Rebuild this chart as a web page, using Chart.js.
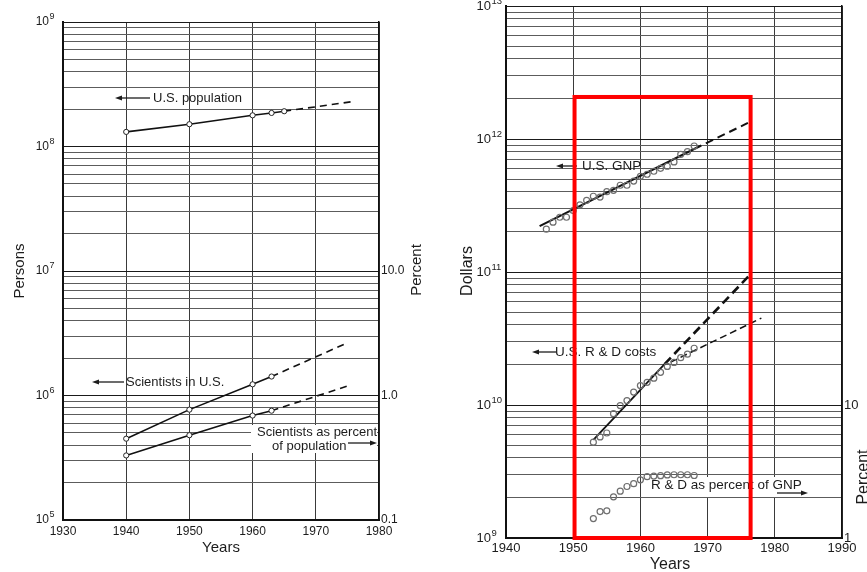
<!DOCTYPE html>
<html>
<head>
<meta charset="utf-8">
<script src="https://cdn.jsdelivr.net/npm/chart.js@4.4.0/dist/chart.umd.min.js"></script>
<style>
  html, body { margin: 0; padding: 0; background: #fff; }
  body { width: 867px; height: 572px; position: relative; overflow: hidden; }
  canvas { position: absolute; top: 0; }
  #esquerda { left: 0; }
  #direita { left: 435px; }
</style>
</head>
<body>
<canvas id="esquerda" width="435" height="572"></canvas>
<canvas id="direita" width="432" height="572"></canvas>
<script>
// ---- painel esquerdo: pessoas ----
const anosPop        = [1940, 1950, 1960, 1963, 1965];
const populacao      = [1.31e8, 1.51e8, 1.78e8, 1.86e8, 1.92e8];
const anosPopProj    = [1965, 1976];
const populacaoProj  = [1.92e8, 2.3e8];

const anosCient      = [1940, 1950, 1960, 1963];
const cientistas     = [4.5e5, 7.7e5, 1.23e6, 1.42e6];
const anosCientProj  = [1963, 1975];
const cientistasProj = [1.42e6, 2.65e6];

const cientistasPct     = [0.33, 0.48, 0.69, 0.755];
const cientistasPctProj = [0.755, 1.19];

// ---- painel direito: dólares ----
const anosPnb = [1946, 1947, 1948, 1949, 1950, 1951, 1952, 1953, 1954, 1955, 1956, 1957,
                 1958, 1959, 1960, 1961, 1962, 1963, 1964, 1965, 1966, 1967, 1968];
const pnb     = [2.10e11, 2.37e11, 2.58e11, 2.58e11, 2.90e11, 3.20e11, 3.46e11, 3.71e11,
                 3.66e11, 4.02e11, 4.11e11, 4.49e11, 4.49e11, 4.83e11, 5.24e11, 5.43e11,
                 5.72e11, 6.02e11, 6.24e11, 6.72e11, 7.67e11, 8.03e11, 8.86e11];
const anosPnbAjuste = [1945, 1968];
const pnbAjuste     = [2.21e11, 8.41e11];
const anosPnbProj   = [1968, 1976];
const pnbProj       = [8.41e11, 1.32e12];

const anosPD  = [1953, 1954, 1955, 1956, 1957, 1958, 1959, 1960,
                 1961, 1962, 1963, 1964, 1965, 1966, 1967, 1968];
const custoPD = [5.25e9, 5.75e9, 6.16e9, 8.6e9, 9.9e9, 1.08e10, 1.25e10, 1.40e10,
                 1.48e10, 1.59e10, 1.76e10, 1.95e10, 2.09e10, 2.27e10, 2.41e10, 2.67e10];
const pdPctPnb = [1.40, 1.58, 1.60, 2.04, 2.25, 2.44, 2.56, 2.74,
                  2.89, 2.92, 2.94, 2.98, 2.99, 2.99, 2.99, 2.95];
const anosPDAjuste   = [1953, 1963.6];
const pdAjuste       = [5.46e9, 2.03e10];
const anosPDProjAlta = [1963.6, 1976.1];
const pdProjAlta     = [2.03e10, 9.3e10];
const anosPDProjBaixa = [1964.5, 1978];
const pdProjBaixa     = [2.1e10, 4.5e10];

// ---- eixos ----
const anosEsq       = [1930, 1940, 1950, 1960, 1970, 1980];
const decadasEsq    = [1e5, 1e6, 1e7, 1e8, 1e9];
const expoentesEsq  = ['5', '6', '7', '8', '9'];
const pctEsq        = [0.1, 1, 10];
const rotulosPctEsq = ['0.1', '1.0', '10.0'];

const anosDir       = [1940, 1950, 1960, 1970, 1980, 1990];
const decadasDir    = [1e9, 1e10, 1e11, 1e12, 1e13];
const expoentesDir  = ['9', '10', '11', '12', '13'];
const pctDir        = [1, 10];
const rotulosPctDir = ['1', '10'];

// região destacada (retângulo vermelho)
const destaqueAnos  = [1950.2, 1976.4];
const destaqueValor = [2.07e12, 1e9];

const fonte = "'Liberation Sans', Arial, Helvetica, sans-serif";
const tinta = '#1c1c1c';
Chart.defaults.font.family = fonte;
Chart.defaults.color = tinta;
Chart.defaults.animation = false;

const pontos = (xs, ys) => xs.map((x, i) => ({ x, y: ys[i] }));

function gradeLog(decadas) {
  const v = [];
  decadas.forEach((d, i) => {
    v.push(d);
    if (i < decadas.length - 1) for (let k = 2; k <= 9; k++) v.push(d * k);
  });
  return v;
}

function eixoX(anos, altura, tamanho, pad) {
  return {
    type: 'linear', position: 'bottom',
    min: anos[0], max: anos[anos.length - 1],
    afterBuildTicks: s => { s.ticks = anos.map(v => ({ value: v })); },
    afterFit: s => { s.height = altura; s.paddingLeft = 0; s.paddingRight = 0; },
    ticks: { autoSkip: false, maxRotation: 0, padding: pad, font: { size: tamanho }, color: tinta,
             callback: v => String(v) },
    grid: { drawTicks: false, color: '#3a3a3a', lineWidth: 1 },
    border: { color: '#111', width: 2 },
  };
}

// rótulo "10" na escala; o expoente é desenhado pelo plugin
function eixoY(decadas, largura, tamanho, pad) {
  const grade = gradeLog(decadas);
  return {
    type: 'logarithmic', position: 'left',
    min: decadas[0], max: decadas[decadas.length - 1],
    afterBuildTicks: s => { s.ticks = grade.map(v => ({ value: v })); },
    afterFit: s => { s.width = largura; s.paddingTop = 0; s.paddingBottom = 0; },
    ticks: { autoSkip: false, padding: pad, font: { size: tamanho }, color: tinta,
             callback: v => decadas.includes(v) ? '10' : '' },
    grid: { drawTicks: false, lineWidth: 1,
            color: c => decadas.includes(c.tick && c.tick.value) ? '#1a1a1a' : '#5c5c5c' },
    border: { color: '#111', width: 2 },
  };
}

function eixoPct(valores, rotulos, min, max, largura, tamanho) {
  return {
    type: 'logarithmic', position: 'right', min, max,
    afterBuildTicks: s => { s.ticks = valores.map(v => ({ value: v })); },
    afterFit: s => { s.width = largura; s.paddingTop = 0; s.paddingBottom = 0; },
    ticks: { autoSkip: false, padding: 2, font: { size: tamanho }, color: tinta,
             callback: v => rotulos[valores.indexOf(v)] },
    grid: { display: false, drawTicks: false },
    border: { display: true, color: '#111', width: 1.5 },
  };
}

// ---- desenho de anotações ----
function seta(ctx, x1, x2, y) {
  const dir = Math.sign(x2 - x1);
  ctx.beginPath();
  ctx.moveTo(x1, y); ctx.lineTo(x2 - dir * 4, y);
  ctx.lineWidth = 1.3; ctx.strokeStyle = tinta; ctx.stroke();
  ctx.beginPath();
  ctx.moveTo(x2, y); ctx.lineTo(x2 - dir * 7, y - 2.6); ctx.lineTo(x2 - dir * 7, y + 2.6);
  ctx.closePath(); ctx.fillStyle = tinta; ctx.fill();
}

function texto(ctx, s, x, y, tam, alinh, rot) {
  ctx.save();
  ctx.font = `${tam}px ${fonte}`;
  ctx.fillStyle = tinta;
  ctx.textAlign = alinh || 'left';
  ctx.textBaseline = 'middle';
  ctx.translate(x, y);
  if (rot) ctx.rotate(rot);
  ctx.fillText(s, 0, 0);
  ctx.restore();
}

function caixaBranca(ctx, x, y, w, h) {
  ctx.fillStyle = '#fff';
  ctx.fillRect(x, y, w, h);
}

function expoentes(chart, decadas, exps, pad, tam) {
  const sy = chart.scales.y;
  const x = chart.chartArea.left - pad + 0.5;
  decadas.forEach((d, i) => texto(chart.ctx, exps[i], x, sy.getPixelForValue(d) - 5, tam));
}

const anotEsq = {
  id: 'anotEsq',
  beforeDatasetsDraw(chart) {
    caixaBranca(chart.ctx, 251, 425, 126, 28);
  },
  afterDraw(chart) {
    const ctx = chart.ctx;
    expoentes(chart, decadasEsq, expoentesEsq, 14, 9);
    seta(ctx, 150, 115, 98);
    texto(ctx, 'U.S. population', 153, 98, 13);
    seta(ctx, 124, 92, 382);
    texto(ctx, 'Scientists in U.S.', 126, 382, 13);
    texto(ctx, 'Scientists as percent', 377, 432, 13, 'right');
    texto(ctx, 'of population', 272, 446, 13);
    seta(ctx, 348, 377, 443);
    texto(ctx, 'Persons', 20, 271, 15, 'center', -Math.PI / 2);
    texto(ctx, 'Percent', 417, 270, 15, 'center', -Math.PI / 2);
    texto(ctx, 'Years', 221, 548, 15, 'center');
  },
};

const anotDir = {
  id: 'anotDir',
  beforeDatasetsDraw(chart) {
    caixaBranca(chart.ctx, 213, 477, 162, 20);
  },
  afterDraw(chart) {
    const ctx = chart.ctx;
    expoentes(chart, decadasDir, expoentesDir, 15, 9.5);
    seta(ctx, 142, 121, 166);
    texto(ctx, 'U.S. GNP', 147, 166, 13.5);
    seta(ctx, 121, 97, 352);
    texto(ctx, 'U.S. R & D costs', 120, 352, 13.5);
    texto(ctx, 'R & D as percent of GNP', 216, 485, 13.5);
    seta(ctx, 342, 373, 493);
    texto(ctx, 'Dollars', 33, 271, 16, 'center', -Math.PI / 2);
    texto(ctx, 'Percent', 429, 477, 16, 'center', -Math.PI / 2);
    texto(ctx, 'Years', 235, 565, 16, 'center');

    // retângulo vermelho
    const sx = chart.scales.x, sy = chart.scales.y;
    const x1 = sx.getPixelForValue(destaqueAnos[0]), x2 = sx.getPixelForValue(destaqueAnos[1]);
    const y1 = sy.getPixelForValue(destaqueValor[0]), y2 = sy.getPixelForValue(destaqueValor[1]);
    ctx.save();
    ctx.strokeStyle = '#ff0000';
    ctx.lineWidth = 4;
    ctx.strokeRect(x1, y1, x2 - x1, y2 - y1);
    ctx.restore();
  },
};

function linha(data, extra) {
  return Object.assign({
    data, showLine: true, borderColor: '#111', borderWidth: 1.6,
    pointRadius: 0, fill: false, tension: 0,
  }, extra);
}

const marcaEsq = { pointRadius: 2.6, pointBackgroundColor: '#fff', pointBorderColor: '#222', pointBorderWidth: 1 };
const marcaDir = { showLine: false, pointRadius: 3, pointBackgroundColor: 'rgba(255,255,255,0)',
                   pointBorderColor: '#6e6e6e', pointBorderWidth: 1.2, borderColor: '#6e6e6e' };

new Chart(document.getElementById('esquerda'), {
  type: 'scatter',
  data: {
    datasets: [
      linha(pontos(anosPop, populacao), marcaEsq),
      linha(pontos(anosPopProj, populacaoProj), { borderDash: [7, 5] }),
      linha(pontos(anosCient, cientistas), marcaEsq),
      linha(pontos(anosCientProj, cientistasProj), { borderDash: [7, 5] }),
      linha(pontos(anosCient, cientistasPct), Object.assign({ yAxisID: 'y2' }, marcaEsq)),
      linha(pontos(anosCientProj, cientistasPctProj), { yAxisID: 'y2', borderDash: [7, 5] }),
    ],
  },
  options: {
    responsive: false,
    layout: { padding: { top: 22, left: 0, right: 0, bottom: 0 } },
    plugins: { legend: { display: false }, tooltip: { enabled: false } },
    scales: {
      x: eixoX(anosEsq, 52, 12, 4),
      y: eixoY(decadasEsq, 63, 12, 14),
      y2: eixoPct(pctEsq, rotulosPctEsq, 0.1, 1000, 56, 12),
    },
  },
  plugins: [anotEsq],
});

new Chart(document.getElementById('direita'), {
  type: 'scatter',
  data: {
    datasets: [
      Object.assign({ data: pontos(anosPnb, pnb) }, marcaDir),
      linha(pontos(anosPnbAjuste, pnbAjuste), { borderWidth: 2 }),
      linha(pontos(anosPnbProj, pnbProj), { borderWidth: 2, borderDash: [8, 5] }),
      Object.assign({ data: pontos(anosPD, custoPD) }, marcaDir),
      linha(pontos(anosPDAjuste, pdAjuste), { borderWidth: 1.8 }),
      linha(pontos(anosPDProjAlta, pdProjAlta), { borderWidth: 2.6, borderDash: [9, 5] }),
      linha(pontos(anosPDProjBaixa, pdProjBaixa), { borderWidth: 1.5, borderDash: [7, 4] }),
      Object.assign({ data: pontos(anosPD, pdPctPnb), yAxisID: 'y2' }, marcaDir),
    ],
  },
  options: {
    responsive: false,
    layout: { padding: { top: 6, left: 0, right: 0, bottom: 0 } },
    plugins: { legend: { display: false }, tooltip: { enabled: false } },
    scales: {
      x: eixoX(anosDir, 34, 13, 3),
      y: eixoY(decadasDir, 71, 13, 15),
      y2: eixoPct(pctDir, rotulosPctDir, 1, 1e4, 25, 13),
    },
  },
  plugins: [anotDir],
});
</script>
</body>
</html>
